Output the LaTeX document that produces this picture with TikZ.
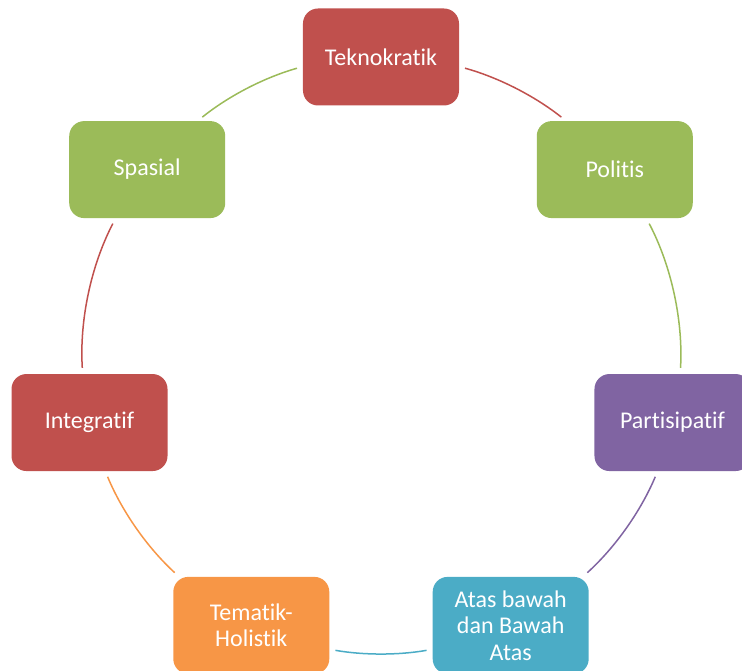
\documentclass[tikz,border=0pt]{standalone}
\usepackage{fontspec}
\setmainfont[Ligatures={NoCommon}]{Carlito}
\definecolor{ored}{HTML}{C0504D}
\definecolor{ogreen}{HTML}{9BBB59}
\definecolor{opurple}{HTML}{8064A2}
\definecolor{oteal}{HTML}{4BACC6}
\definecolor{oorange}{HTML}{F79646}
\begin{document}
\begin{tikzpicture}[x=1pt,y=1pt,
		blok/.style={rectangle,rounded corners=15pt,minimum width=156pt,minimum height=97pt,
			inner sep=2pt,align=center,text=white,font=\fontsize{24}{26.5}\selectfont},
		busur/.style={line width=1.5pt,looseness=0.86,shorten >=6pt,shorten <=6pt}]
		\useasboundingbox (-381,-315) rectangle (361,356);
		\begin{scope}
		\clip (-381,-315) rectangle (361,356);
		\node[blok,fill=ored] (tek) at (90:299) {Teknokratik};
		\node[blok,fill=ogreen] (pol) at (38.57:299) {Politis};
		\node[blok,fill=opurple] (par) at (-12.86:299) {Partisipatif};
		\node[blok,fill=oteal] (ata) at (-64.29:299) {Atas bawah\\dan Bawah\\Atas};
		\node[blok,fill=oorange] (tem) at (-115.71:299) {Tematik-\\Holistik};
		\node[blok,fill=ored] (int) at (192.86:299) {Integratif};
		\node[blok,fill=ogreen] (spa) at (141.43:299) {Spasial};
		\draw[busur,color=ored] (tek.-7.6) to[bend left=11.55] (pol.135.2);
		\draw[busur,color=ogreen] (pol.-57) to[bend left=15.5] (par.81.8);
		\draw[busur,color=opurple] (par.-107.7) to[bend left=12.5] (ata.34);
		\draw[busur,color=oteal] (ata.197.8) to[bend left=10] (tem.-17.8);
		\draw[busur,color=oorange] (tem.146) to[bend left=12.5] (int.-72.3);
		\draw[busur,color=ored] (int.98.2) to[bend left=15.5] (spa.237);
		\draw[busur,color=ogreen] (spa.44.8) to[bend left=11.55] (tek.187.6);
		\end{scope}
\end{tikzpicture}
\end{document}
